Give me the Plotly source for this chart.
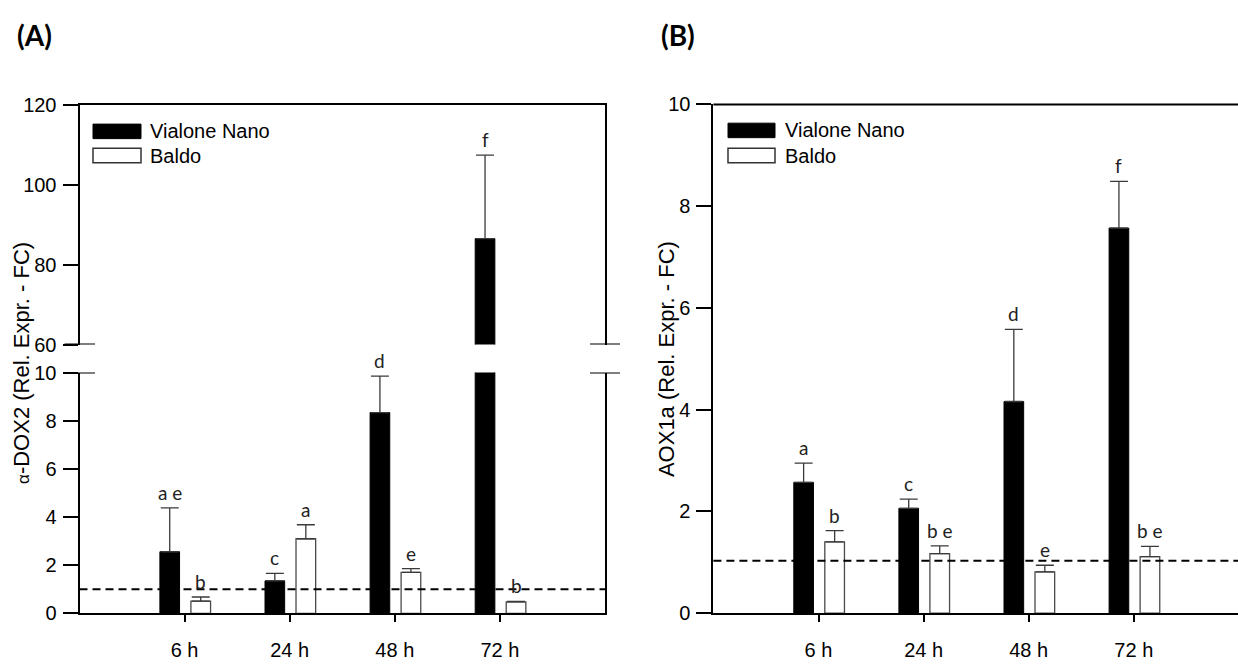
import plotly.graph_objects as go

# ---------------- data ----------------
times = ["6 h", "24 h", "48 h", "72 h"]
pos = [1, 2, 3, 4]

a_vn = [2.56, 1.35, 8.34, 86.5]
a_vn_err = [1.82, 0.31, 1.51, 20.9]
a_ba = [0.51, 3.10, 1.70, 0.48]
a_ba_err = [0.17, 0.58, 0.16, 0.02]
a_vn_letters = ["a e", "c", "d", "f"]
a_ba_letters = ["b", "a", "e", "b"]

b_vn = [2.57, 2.06, 4.16, 7.57]
b_vn_err = [0.38, 0.18, 1.42, 0.92]
b_ba = [1.40, 1.17, 0.81, 1.11]
b_ba_err = [0.22, 0.15, 0.13, 0.20]
b_vn_letters = ["a", "c", "d", "f"]
b_ba_letters = ["b", "b e", "e", "b e"]

ref_a = 1.0
ref_b = 1.03

# ---------------- layout helpers ----------------
W, H = 1238, 664
def px(x):
    return x / W
def py(y):
    return 1 - y / H

FONT = "Liberation Sans, Arial, sans-serif"
LET_FONT = "Lato, Open Sans, sans-serif"
BW = 0.187
OFF_VN = -0.235
OFF_BA = 0.06
ERRC = "#3a3a3a"

fig = go.Figure()

def add_pair(vn, vn_err, ba, ba_err, xa, ya):
    fig.add_trace(go.Bar(
        x=pos, y=vn, width=BW, offset=OFF_VN, xaxis=xa, yaxis=ya,
        marker=dict(color="black", line=dict(color="black", width=1)),
        error_y=dict(type="data", array=vn_err, arrayminus=[0] * len(vn), symmetric=False,
                     color=ERRC, thickness=1.3, width=9),
        showlegend=False, hoverinfo="skip"))
    if ba is not None:
        fig.add_trace(go.Bar(
            x=pos, y=ba, width=BW, offset=OFF_BA, xaxis=xa, yaxis=ya,
            marker=dict(color="white", line=dict(color="#4a4a4a", width=1.3)),
            error_y=dict(type="data", array=ba_err, arrayminus=[0] * len(ba), symmetric=False,
                         color=ERRC, thickness=1.3, width=9),
            showlegend=False, hoverinfo="skip"))

# Panel A lower (0-10) and upper (60-120) segments
add_pair(a_vn, a_vn_err, a_ba, a_ba_err, "x", "y")
add_pair(a_vn, a_vn_err, None, None, "x3", "y3")
# Panel B
add_pair(b_vn, b_vn_err, b_ba, b_ba_err, "x2", "y2")

annotations = []
shapes = []

def letters(vals, errs, labs, off, xref, yref_lo, lo_max, yref_hi=None):
    for p, v, e, t in zip(pos, vals, errs, labs):
        top = v + e
        yr = yref_lo if (top <= lo_max or yref_hi is None) else yref_hi
        annotations.append(dict(
            x=p + off + BW / 2, y=top, xref=xref, yref=yr, text=t, showarrow=False,
            yanchor="bottom", xanchor="center", yshift=2,
            font=dict(family=LET_FONT, size=19, color="#222")))

letters(a_vn, a_vn_err, a_vn_letters, OFF_VN, "x", "y", 10, "y3")
letters(a_ba, a_ba_err, a_ba_letters, OFF_BA, "x", "y", 10, "y3")
letters(b_vn, b_vn_err, b_vn_letters, OFF_VN, "x2", "y2", 10)
letters(b_ba, b_ba_err, b_ba_letters, OFF_BA, "x2", "y2", 10)

# reference dashed lines
DASH = "8px,5px"
shapes.append(dict(type="line", xref="x domain", yref="y", x0=0, x1=1, y0=ref_a, y1=ref_a,
                   line=dict(color="black", width=2, dash=DASH), layer="above"))
shapes.append(dict(type="line", xref="x2 domain", yref="y2", x0=0, x1=1, y0=ref_b, y1=ref_b,
                   line=dict(color="black", width=2, dash=DASH), layer="above"))

# axis break marks for panel A
for yr, yv in (("y3", 60), ("y", 10)):
    for x0, x1 in ((64.5, 95), (590, 620)):
        shapes.append(dict(type="line", xref="paper", yref=yr, x0=px(x0), x1=px(x1), y0=yv, y1=yv,
                           line=dict(color="black", width=2)))

# manual legends
def legend(x_rect0, x_rect1, x_text, y_top1, y_top2):
    shapes.append(dict(type="rect", xref="paper", yref="paper", x0=px(x_rect0), x1=px(x_rect1),
                       y0=py(y_top1 + 15), y1=py(y_top1), fillcolor="black",
                       line=dict(color="black", width=1)))
    shapes.append(dict(type="rect", xref="paper", yref="paper", x0=px(x_rect0), x1=px(x_rect1),
                       y0=py(y_top2 + 15), y1=py(y_top2), fillcolor="white",
                       line=dict(color="#333", width=1.5)))
    for yy, t in ((y_top1 + 7.5, "Vialone Nano"), (y_top2 + 7.5, "Baldo")):
        annotations.append(dict(x=px(x_text), y=py(yy), xref="paper", yref="paper", text=t,
                                showarrow=False, xanchor="left", yanchor="middle",
                                font=dict(family=FONT, size=20, color="black")))

legend(93, 141, 148, 117, 142)
legend(728, 775, 783, 116, 142)

# y titles
annotations.append(dict(x=px(22), y=py(364), xref="paper", yref="paper", textangle=-90,
                        xanchor="center", yanchor="middle",
                        text="<span style='font-size:17px'>α</span>-DOX2 (Rel. Expr. - FC)",
                        showarrow=False, font=dict(family=FONT, size=22, color="black")))
annotations.append(dict(x=px(666), y=py(360), xref="paper", yref="paper", textangle=-90,
                        xanchor="center", yanchor="middle",
                        text="AOX1a (Rel. Expr. - FC)",
                        showarrow=False, font=dict(family=FONT, size=22, color="black")))
# panel labels
annotations.append(dict(x=px(34), y=py(25), xref="paper", yref="paper", text="<b>(A)</b>",
                        xanchor="center", yanchor="middle",
                        showarrow=False, font=dict(family="Lato, Open Sans, sans-serif", size=28, color="black")))
annotations.append(dict(x=px(678), y=py(25), xref="paper", yref="paper", text="<b>(B)</b>",
                        xanchor="center", yanchor="middle",
                        showarrow=False, font=dict(family="Lato, Open Sans, sans-serif", size=28, color="black")))

tickfont = dict(family=FONT, size=20, color="black")
xcommon = dict(tickmode="array", tickvals=pos, ticktext=times, ticks="outside", ticklen=7,
               tickwidth=2, tickcolor="black", showline=True, linecolor="black", linewidth=2,
               showgrid=False, zeroline=False, tickfont=tickfont, ticklabelstandoff=11)
ycommon = dict(ticks="outside", ticklen=15, tickwidth=2, tickcolor="black", showline=True,
               linecolor="black", linewidth=2, showgrid=False, zeroline=False, tickfont=tickfont,
               ticklabelstandoff=2)

fig.update_layout(
    width=W, height=H, margin=dict(l=0, r=0, t=0, b=0),
    paper_bgcolor="white", plot_bgcolor="white", barmode="overlay",
    xaxis=dict(domain=[px(79.5), px(605)], range=[0, 5], anchor="y", **xcommon),
    yaxis=dict(domain=[py(623), py(374)], range=[0, 10], anchor="x", tickvals=[0, 2, 4, 6, 8, 10],
               mirror=True, **ycommon),
    xaxis3=dict(domain=[px(79.5), px(605)], range=[0, 5], anchor="y3", matches="x", side="top",
                showline=True, linecolor="black", linewidth=2, showticklabels=False, ticks="",
                showgrid=False, zeroline=False),
    yaxis3=dict(domain=[py(345), py(97)], range=[60, 120], anchor="x3", tickvals=[60, 80, 100, 120],
                mirror=True, **ycommon),
    xaxis2=dict(domain=[px(713.4), 1.0], range=[0, (1238 - 713.4) / 105.1], anchor="y2", **xcommon),
    yaxis2=dict(domain=[py(622.7), py(96.7)], range=[0, 10], anchor="x2", tickvals=[0, 2, 4, 6, 8, 10],
                **ycommon),
    shapes=shapes, annotations=annotations,
)
# top frame line for panel B
fig.add_shape(type="line", xref="x2 domain", yref="y2 domain", x0=0, x1=1, y0=1, y1=1,
              line=dict(color="black", width=2))

fig.write_html("out.html")
